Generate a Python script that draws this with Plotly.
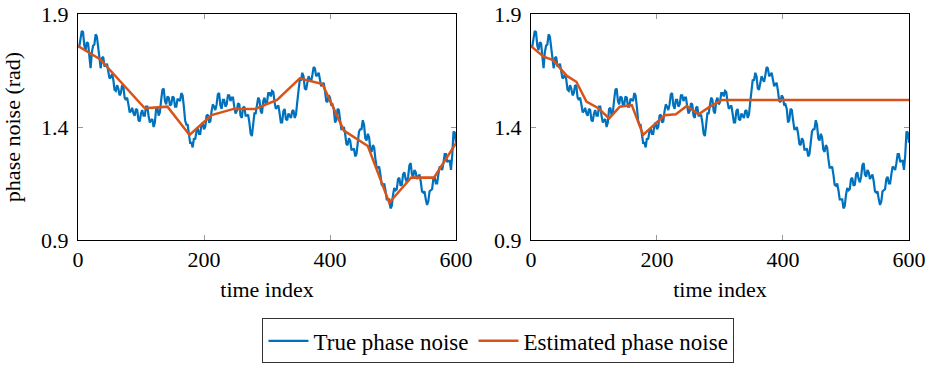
import plotly.graph_objects as go
from plotly.subplots import make_subplots

# True phase noise (every 2 samples)
true_idx = list(range(0, 601, 2))
true_phase = [
    1.76, 1.755, 1.79, 1.825, 1.82, 1.76, 1.74, 1.775, 1.77, 1.695,
    1.66, 1.73, 1.76, 1.765, 1.81, 1.80, 1.75, 1.685, 1.66, 1.705,
    1.71, 1.67, 1.67, 1.68, 1.65, 1.615, 1.62, 1.635, 1.61, 1.565,
    1.56, 1.585, 1.57, 1.54, 1.55, 1.585, 1.58, 1.53, 1.52, 1.53,
    1.50, 1.465, 1.47, 1.485, 1.46, 1.45, 1.48, 1.475, 1.43, 1.425,
    1.46, 1.475, 1.45, 1.45, 1.49, 1.49, 1.45, 1.42, 1.43, 1.435,
    1.40, 1.42, 1.48, 1.485, 1.45, 1.465, 1.52, 1.565, 1.57, 1.515,
    1.50, 1.535, 1.53, 1.495, 1.50, 1.535, 1.53, 1.49, 1.49, 1.525,
    1.52, 1.515, 1.55, 1.54, 1.49, 1.43, 1.41, 1.41, 1.37, 1.33,
    1.33, 1.31, 1.35, 1.345, 1.38, 1.395, 1.37, 1.37, 1.41, 1.42,
    1.39, 1.40, 1.45, 1.455, 1.42, 1.425, 1.47, 1.50, 1.49, 1.475,
    1.50, 1.545, 1.55, 1.495, 1.48, 1.52, 1.52, 1.49, 1.50, 1.54,
    1.54, 1.515, 1.53, 1.53, 1.49, 1.46, 1.47, 1.505, 1.50, 1.45,
    1.44, 1.485, 1.49, 1.45, 1.45, 1.455, 1.42, 1.37, 1.36, 1.43,
    1.46, 1.46, 1.50, 1.53, 1.52, 1.47, 1.46, 1.515, 1.53, 1.50,
    1.51, 1.55, 1.55, 1.535, 1.56, 1.555, 1.51, 1.48, 1.49, 1.495,
    1.46, 1.42, 1.42, 1.47, 1.48, 1.435, 1.43, 1.46, 1.45, 1.44,
    1.47, 1.475, 1.44, 1.455, 1.51, 1.58, 1.61, 1.605, 1.64, 1.625,
    1.57, 1.565, 1.60, 1.625, 1.61, 1.60, 1.63, 1.665, 1.66, 1.625,
    1.63, 1.64, 1.61, 1.58, 1.59, 1.595, 1.56, 1.515, 1.51, 1.54,
    1.53, 1.495, 1.50, 1.48, 1.42, 1.43, 1.48, 1.475, 1.43, 1.39,
    1.39, 1.40, 1.37, 1.325, 1.32, 1.35, 1.34, 1.30, 1.30, 1.305,
    1.27, 1.28, 1.33, 1.38, 1.39, 1.39, 1.43, 1.41, 1.35, 1.34,
    1.37, 1.355, 1.30, 1.29, 1.32, 1.31, 1.26, 1.22, 1.22, 1.225,
    1.19, 1.145, 1.14, 1.15, 1.12, 1.08, 1.08, 1.08, 1.04, 1.05,
    1.10, 1.13, 1.12, 1.125, 1.17, 1.175, 1.14, 1.145, 1.19, 1.20,
    1.17, 1.155, 1.18, 1.23, 1.24, 1.19, 1.18, 1.21, 1.20, 1.17,
    1.18, 1.19, 1.16, 1.115, 1.11, 1.115, 1.08, 1.055, 1.07, 1.115,
    1.12, 1.125, 1.17, 1.18, 1.15, 1.15, 1.19, 1.225, 1.22, 1.21,
    1.24, 1.28, 1.28, 1.245, 1.25, 1.25, 1.21, 1.275, 1.38, 1.375,
    1.33,
]

# Estimated phase noise, left panel
est_left_idx = [0, 35, 106, 142, 177, 212, 247, 281, 316, 352, 388, 422, 460, 494, 529, 565, 600]
est_left = [1.758, 1.70, 1.483, 1.49, 1.365, 1.453, 1.48, 1.48, 1.52, 1.615, 1.59, 1.384,
            1.316, 1.065, 1.177, 1.176, 1.328]

# Estimated phase noise, right panel
est_right_idx = [0, 20, 35, 57, 72, 88, 107, 124, 141, 160, 178, 212, 230, 247, 266, 284, 303, 600]
est_right = [1.758, 1.711, 1.696, 1.626, 1.60, 1.512, 1.483, 1.438, 1.49, 1.497, 1.365,
             1.452, 1.456, 1.493, 1.456, 1.49, 1.52, 1.52]

x_ticks = [0, 200, 400, 600]
y_ticks = [0.9, 1.4, 1.9]

BLUE = "#0072BD"
ORANGE = "#D95319"
FONT = "Liberation Serif"
FS = 22

fig = make_subplots(rows=1, cols=2, horizontal_spacing=0.0902)

fig.add_trace(go.Scatter(x=true_idx, y=true_phase, mode="lines", name="True phase noise",
                         line=dict(color=BLUE, width=2.2)), row=1, col=1)
fig.add_trace(go.Scatter(x=est_left_idx, y=est_left, mode="lines", name="Estimated phase noise",
                         line=dict(color=ORANGE, width=2.5)), row=1, col=1)
fig.add_trace(go.Scatter(x=true_idx, y=true_phase, mode="lines", showlegend=False,
                         line=dict(color=BLUE, width=2.2)), row=1, col=2)
fig.add_trace(go.Scatter(x=est_right_idx, y=est_right, mode="lines", showlegend=False,
                         line=dict(color=ORANGE, width=2.5)), row=1, col=2)

axis_common = dict(showline=True, linecolor="black", linewidth=1, mirror="ticks",
                   ticks="inside", ticklen=5, tickcolor="#999999", showgrid=False,
                   zeroline=False, automargin=False,
                   tickfont=dict(family=FONT, size=FS, color="black"))

for c in (1, 2):
    fig.update_xaxes(range=[0, 600], tickvals=x_ticks, ticktext=[str(v) for v in x_ticks],
                     title=dict(text="time index", font=dict(family=FONT, size=FS, color="black"),
                                standoff=10),
                     row=1, col=c, **axis_common)
    fig.update_yaxes(range=[0.9, 1.9], tickvals=y_ticks, ticktext=[f"{v:.1f}" for v in y_ticks],
                     ticklabelstandoff=4, row=1, col=c, **axis_common)

fig.update_yaxes(title=dict(text="phase noise (rad)", font=dict(family=FONT, size=FS, color="black"),
                            standoff=14), row=1, col=1)

fig.update_layout(
    width=932, height=365,
    margin=dict(l=78, r=23, t=14, b=125, autoexpand=False),
    paper_bgcolor="white", plot_bgcolor="white",
    font=dict(family=FONT, size=FS, color="black"),
    legend=dict(orientation="h", x=0.506, xanchor="center",
                yref="container", y=0.066, yanchor="middle",
                bordercolor="#333333", borderwidth=1, bgcolor="white",
                font=dict(family=FONT, size=23, color="black"),
                itemwidth=40, tracegroupgap=0),
    showlegend=True,
)

fig.write_html("out.html", config={"displayModeBar": False},
               post_script="document.body.style.margin='0';document.body.style.overflow='hidden';")
